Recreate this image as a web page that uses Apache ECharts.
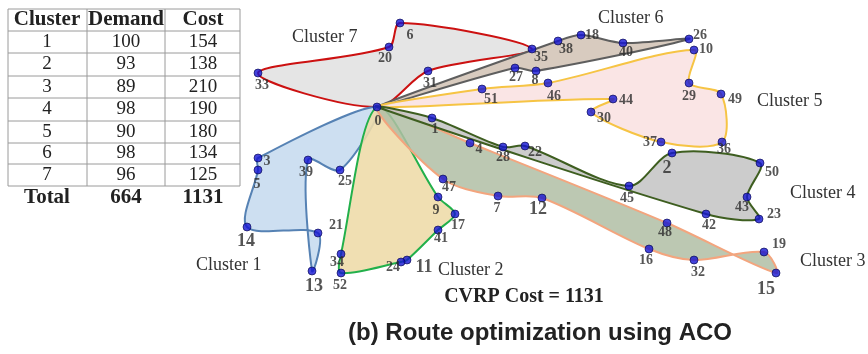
<!DOCTYPE html>
<html>
<head>
<meta charset="utf-8">
<script src="https://cdn.jsdelivr.net/npm/echarts@6/dist/echarts.min.js"></script>
<style>
  html, body { margin: 0; padding: 0; background: #fff; }
  #chart { width: 868px; height: 354px; }
</style>
</head>
<body>
<div id="chart"></div>
<script>
// Customer locations (node 0 is the depot)
const nodeX = [377, 432, 672, 258, 470, 258, 400, 498, 536, 438, 694, 407, 542, 312, 247, 776, 649, 455, 581, 764,
               389, 318, 525, 759, 401, 340, 689, 515, 503, 689, 591, 428, 694, 258, 341, 532, 722, 661, 558, 308,
               623, 438, 706, 747, 613, 629, 548, 443, 667, 721, 760, 482, 341];
const nodeY = [107, 118, 153, 158, 143, 170, 23, 196, 71, 197, 50, 260, 198, 271, 227, 273, 249, 214, 35, 252,
               47, 233, 146, 219, 262, 170, 39, 68, 147, 83, 112, 71, 260, 73, 254, 49, 142, 142, 41, 160,
               43, 230, 214, 197, 99, 186, 83, 179, 223, 94, 163, 89, 273];

// Vehicle routes found by ACO, one per cluster (start and end at depot)
const route1 = [0, 3, 5, 14, 21, 13, 39, 25];
const route2 = [0, 9, 17, 41, 11, 24, 52, 34];
const route3 = [0, 4, 48, 15, 19, 32, 16, 12, 7, 47];
const route4 = [0, 1, 28, 22, 45, 2, 50, 43, 23, 42];
const route5 = [0, 51, 46, 10, 29, 49, 36, 37, 30, 44];
const route6 = [0, 38, 18, 40, 26, 8, 27];
const route7 = [0, 31, 35, 6, 20, 33];

// Summary table
const tableHeader = ['Cluster', 'Demand', 'Cost'];
const clusterNo = [1, 2, 3, 4, 5, 6, 7];
const clusterDemand = [100, 93, 89, 98, 90, 98, 96];
const clusterCost = [154, 138, 210, 190, 180, 134, 125];
const totalDemand = 664;
const totalCost = 1131;

// ---- presentation ----
const routes = [route1, route2, route3, route4, route5, route6, route7];
const routeStyle = {
  1: { fill: 'rgba(196,217,238,0.85)', stroke: '#5682b4' },
  2: { fill: 'rgba(238,219,170,0.9)', stroke: '#22b04b' },
  3: { fill: 'rgba(176,190,164,0.85)', stroke: '#f3a57e' },
  4: { fill: 'rgba(198,198,198,0.9)', stroke: '#3e5e20' },
  5: { fill: 'rgba(250,226,226,0.9)', stroke: '#f6c444' },
  6: { fill: 'rgba(214,200,188,0.95)', stroke: '#5e5e5e' },
  7: { fill: 'rgba(228,228,228,0.95)', stroke: '#cc1111' }
};
const drawOrder = [7, 6, 5, 1, 2, 3, 4];

// label offsets from each node marker
const labelOffset = {
  0: [1, 14], 1: [3, 11], 2: [-5, 15], 3: [9, 3], 4: [9, 6], 5: [-1, 14], 6: [10, 12], 7: [-1, 12],
  8: [-1, 9], 9: [-2, 13], 10: [12, -1], 11: [17, 7], 12: [-4, 11], 13: [2, 15], 14: [-1, 14],
  15: [-10, 16], 16: [-3, 11], 17: [3, 11], 18: [11, 0], 19: [15, -8], 20: [-4, 11], 21: [18, -8],
  22: [10, 6], 23: [15, -5], 24: [-8, 5], 25: [5, 11], 26: [11, -4], 27: [1, 9], 28: [0, 10],
  29: [0, 13], 30: [13, 6], 31: [2, 12], 32: [4, 12], 33: [4, 12], 34: [-4, 8], 35: [9, 8],
  36: [2, 7], 37: [-11, 0], 38: [8, 8], 39: [-2, 12], 40: [3, 9], 41: [3, 8], 42: [3, 11],
  43: [-5, 10], 44: [13, 1], 45: [-2, 12], 46: [6, 13], 47: [6, 8], 48: [-2, 9], 49: [14, 5],
  50: [12, 9], 51: [9, 10], 52: [-1, 12]
};
const bigLabels = [2, 11, 12, 13, 14, 15];

const serif = '"Liberation Serif", "Times New Roman", serif';

const polySeries = drawOrder.map(function (c) {
  const r = routes[c - 1];
  return {
    type: 'custom',
    name: 'Cluster ' + c,
    coordinateSystem: 'cartesian2d',
    silent: true,
    data: [[nodeX[r[0]], nodeY[r[0]]]],
    renderItem: function (params, api) {
      const pts = r.map(function (id) { return api.coord([nodeX[id], nodeY[id]]); });
      return {
        type: 'polygon',
        shape: { points: pts, smooth: 0.3 },
        style: { fill: routeStyle[c].fill, stroke: routeStyle[c].stroke, lineWidth: 2 }
      };
    }
  };
});

const nodeData = nodeX.map(function (x, id) {
  const big = bigLabels.indexOf(id) >= 0;
  return {
    value: [x, nodeY[id], id],
    label: {
      offset: labelOffset[id],
      fontSize: big ? 18 : 14,
    }
  };
});

const nodeSeries = {
  type: 'scatter',
  data: nodeData,
  symbolSize: 8,
  itemStyle: { color: '#1414d2', borderColor: '#06064a', borderWidth: 0.8 },
  label: {
    show: true,
    position: 'inside',
    formatter: function (p) { return String(p.value[2]); },
    fontFamily: serif,
    fontWeight: 'bold',
    color: '#2b2b2b'
  },
  z: 5
};

// table drawn as graphic elements
const gfx = [];
const colEdges = [8, 87, 165, 240];
const rowEdges = [9, 31, 53, 76, 98, 121, 143, 164, 186];
const colMid = [47, 126, 203];
gfx.push({ type: 'rect', shape: { x: colEdges[0], y: rowEdges[0], width: colEdges[3] - colEdges[0], height: rowEdges[8] - rowEdges[0] },
  style: { fill: 'none', stroke: '#9a9a9a', lineWidth: 1 } });
rowEdges.slice(1, -1).forEach(function (y) {
  gfx.push({ type: 'line', shape: { x1: colEdges[0], y1: y, x2: colEdges[3], y2: y }, style: { stroke: '#9a9a9a', lineWidth: 1 } });
});
colEdges.slice(1, -1).forEach(function (x) {
  gfx.push({ type: 'line', shape: { x1: x, y1: rowEdges[0], x2: x, y2: rowEdges[8] }, style: { stroke: '#9a9a9a', lineWidth: 1 } });
});
function cell(text, col, y, bold) {
  gfx.push({ type: 'text', x: colMid[col], y: y,
    style: { text: String(text), fill: '#222', font: (bold ? 'bold 21px ' : '19px ') + serif, align: 'center', verticalAlign: 'middle' } });
}
tableHeader.forEach(function (h, i) { cell(h, i, (rowEdges[0] + rowEdges[1]) / 2, true); });
clusterNo.forEach(function (c, i) {
  const y = (rowEdges[i + 1] + rowEdges[i + 2]) / 2;
  cell(c, 0, y, false);
  cell(clusterDemand[i], 1, y, false);
  cell(clusterCost[i], 2, y, false);
});
cell('Total', 0, 198, true);
cell(totalDemand, 1, 198, true);
cell(totalCost, 2, 198, true);

// cluster captions
const captions = [
  ['Cluster 7', 292, 37], ['Cluster 6', 598, 18], ['Cluster 5', 757, 101], ['Cluster 4', 790, 193],
  ['Cluster 3', 800, 261], ['Cluster 2', 438, 270], ['Cluster 1', 196, 265]
];
captions.forEach(function (c) {
  gfx.push({ type: 'text', x: c[1], y: c[2],
    style: { text: c[0], fill: '#333', font: '18px ' + serif, align: 'left', verticalAlign: 'middle' } });
});
gfx.push({ type: 'text', x: 524, y: 297,
  style: { text: 'CVRP Cost = ' + totalCost, fill: '#222', font: 'bold 20px ' + serif, align: 'center', verticalAlign: 'middle' } });
gfx.push({ type: 'text', x: 540, y: 333,
  style: { text: '(b) Route optimization using ACO', fill: '#222', font: 'bold 24px "Liberation Sans", Arial, sans-serif', align: 'center', verticalAlign: 'middle' } });

const chart = echarts.init(document.getElementById('chart'), null, { renderer: 'canvas' });
chart.setOption({
  animation: false,
  backgroundColor: '#ffffff',
  grid: { left: 0, right: 0, top: 0, bottom: 0 },
  xAxis: { type: 'value', min: 0, max: 868, show: false },
  yAxis: { type: 'value', min: 0, max: 354, inverse: true, show: false },
  graphic: gfx,
  series: polySeries.concat([nodeSeries])
});
</script>
</body>
</html>
